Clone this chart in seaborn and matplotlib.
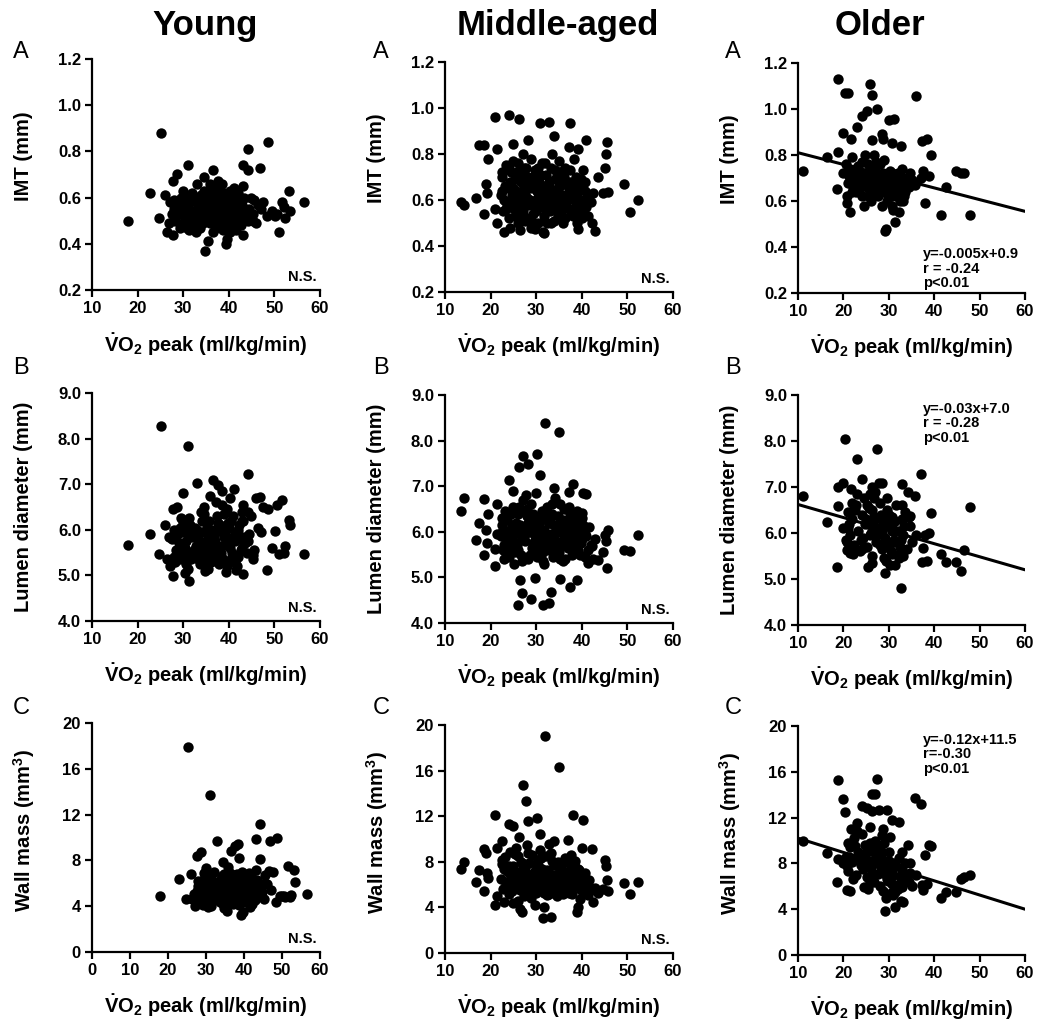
import numpy as np
import pandas as pd
import seaborn as sns
import matplotlib.pyplot as plt

sns.set_style("ticks")
plt.rcParams['font.family'] = ['Liberation Sans', 'DejaVu Sans']
plt.rcParams['font.weight'] = 'bold'
plt.rcParams['axes.labelweight'] = 'bold'
plt.rcParams['text.color'] = 'black'
plt.rcParams['axes.labelcolor'] = 'black'
plt.rcParams['mathtext.fontset'] = 'custom'
plt.rcParams['mathtext.rm'] = 'Liberation Sans:bold'
plt.rcParams['mathtext.it'] = 'Liberation Sans:bold'
plt.rcParams['mathtext.bf'] = 'Liberation Sans:bold'

# ---- data ----
young_vo2 = [18.0, 25.2, 31.0, 56.5, 24.8, 22.8, 48.7, 44.3, 46.8, 43.2,
             44.3, 34.8, 39.3, 35.5, 53.2, 51.6, 50.9, 53.4, 50.1, 52.3,
             48.3, 46.5, 45.4, 44.3, 43.2, 36.6, 34.6, 28.6, 27.7, 26.0,
             26.4, 27.8, 29.9, 33.0, 37.7, 43.2, 38.5, 30.5, 31.2, 41.5,
             29.0, 30.2, 31.5, 32.4, 33.3, 34.1, 35.0, 35.8, 36.7, 37.5,
             38.2, 39.0, 39.8, 40.6, 41.4, 42.1, 42.9, 28.3, 29.6, 30.9,
             32.0, 33.6, 34.5, 35.4, 36.2, 37.1, 38.0, 38.8, 39.5, 40.3,
             41.0, 41.8, 42.6, 28.8, 30.4, 31.8, 33.0, 34.0, 35.2, 36.0,
             37.0, 37.8, 39.2, 40.0, 40.9, 42.3, 43.6, 44.5, 27.5, 28.0,
             32.8, 36.5, 33.8, 45.5, 47.0, 49.5, 52.0, 31.0, 26.8, 27.2,
             29.2, 46.0, 47.5, 50.5, 37.3, 35.9, 41.2, 38.6, 40.2, 39.7,
             28.5, 29.4, 30.0, 30.7, 31.3, 32.2, 32.6, 33.4, 34.3, 34.8,
             35.6, 36.4, 36.9, 37.6, 38.4, 38.9, 39.4, 40.1, 40.7, 41.6,
             42.0, 42.8, 43.4, 44.0, 29.8, 31.6, 33.2, 35.0, 36.8, 38.6,
             40.4, 42.2, 27.9, 44.8, 30.6, 34.2, 37.9, 41.3, 43.0, 45.2]
young_imt = [0.50, 0.88, 0.74, 0.58, 0.51, 0.62, 0.84, 0.81, 0.73, 0.74,
             0.72, 0.37, 0.40, 0.41, 0.63, 0.58, 0.45, 0.54, 0.52, 0.51,
             0.52, 0.57, 0.50, 0.50, 0.44, 0.72, 0.69, 0.70, 0.67, 0.61,
             0.45, 0.44, 0.63, 0.66, 0.67, 0.65, 0.62, 0.48, 0.46, 0.46,
             0.55, 0.52, 0.58, 0.50, 0.56, 0.53, 0.60, 0.49, 0.55, 0.58,
             0.51, 0.54, 0.60, 0.49, 0.56, 0.53, 0.59, 0.50, 0.60, 0.47,
             0.62, 0.47, 0.63, 0.52, 0.62, 0.47, 0.60, 0.46, 0.57, 0.63,
             0.51, 0.61, 0.48, 0.57, 0.56, 0.54, 0.52, 0.58, 0.55, 0.57,
             0.53, 0.49, 0.50, 0.55, 0.58, 0.56, 0.52, 0.55, 0.53, 0.59,
             0.45, 0.45, 0.61, 0.59, 0.55, 0.54, 0.56, 0.51, 0.49, 0.58,
             0.47, 0.49, 0.58, 0.53, 0.64, 0.66, 0.64, 0.66, 0.45, 0.42,
             0.52, 0.58, 0.49, 0.61, 0.55, 0.47, 0.59, 0.53, 0.49, 0.57,
             0.63, 0.51, 0.60, 0.55, 0.57, 0.62, 0.48, 0.52, 0.59, 0.48,
             0.62, 0.55, 0.60, 0.52, 0.54, 0.50, 0.60, 0.50, 0.64, 0.53,
             0.56, 0.51, 0.55, 0.60, 0.59, 0.61, 0.63, 0.54, 0.57, 0.53]
young_lumen = [5.67, 8.27, 7.83, 5.47, 5.47, 5.90, 6.45, 7.22, 6.72, 6.55,
               6.40, 5.10, 5.07, 5.15, 6.22, 6.65, 5.48, 6.10, 5.97, 5.65,
               5.12, 6.05, 5.45, 5.75, 5.02, 7.10, 6.50, 6.50, 6.45, 6.10,
               5.35, 4.98, 6.80, 7.02, 6.98, 6.20, 6.85, 5.05, 4.87, 5.12,
               5.70, 5.95, 6.10, 5.55, 5.80, 6.20, 5.45, 5.90, 5.65, 6.30,
               5.50, 5.85, 6.15, 5.40, 5.75, 6.00, 5.60, 5.30, 6.25, 5.45,
               5.85, 5.25, 6.35, 5.60, 5.30, 5.95, 6.10, 5.35, 6.45, 5.60,
               6.30, 5.20, 5.55, 5.90, 5.60, 5.35, 6.00, 5.70, 6.05, 5.40,
               5.75, 5.25, 5.95, 5.30, 5.85, 6.10, 5.70, 5.90, 5.80, 5.40,
               5.65, 5.50, 6.40, 5.55, 5.95, 5.60, 5.50, 5.15, 5.85, 5.20,
               6.05, 6.70, 6.50, 6.55, 6.60, 6.75, 6.90, 6.55, 6.70, 5.20,
               5.55, 5.35, 6.15, 5.75, 6.25, 5.40, 6.05, 5.55, 5.95, 5.30,
               6.20, 6.00, 5.55, 6.15, 5.65, 6.35, 5.75, 6.05, 5.50, 5.95,
               5.40, 6.20, 5.85, 5.50, 5.50, 5.90, 5.35, 5.75, 5.85, 6.00,
               6.20, 5.80, 6.00, 6.30, 5.25, 5.45, 5.40, 5.30, 6.40, 5.35]
young_wall = [4.9, 17.9, 13.7, 5.1, 4.6, 6.4, 10.0, 11.2, 9.7, 9.9,
              8.1, 3.8, 3.2, 3.6, 7.2, 7.5, 4.8, 6.1, 4.9, 5.0,
              4.4, 7.1, 6.0, 5.2, 4.7, 8.8, 7.9, 8.7, 8.4, 6.8,
              4.6, 4.5, 7.3, 9.7, 9.3, 7.2, 9.4, 3.9, 4.0, 3.9,
              5.6, 5.2, 6.3, 4.8, 5.9, 6.6, 5.1, 4.6, 6.0, 5.4,
              6.8, 4.9, 5.7, 6.2, 5.0, 6.5, 4.5, 4.7, 6.9, 4.3,
              7.0, 4.4, 6.2, 5.5, 6.9, 4.2, 6.0, 4.1, 7.0, 5.3,
              5.8, 4.4, 6.1, 6.1, 5.8, 5.0, 5.4, 6.4, 4.7, 5.2,
              5.7, 6.3, 5.2, 6.6, 4.6, 5.6, 5.4, 5.8, 5.3, 6.2,
              4.9, 4.3, 5.3, 6.7, 5.4, 4.9, 4.8, 5.9, 5.1, 4.0,
              4.1, 5.9, 7.0, 4.9, 6.7, 7.4, 6.3, 8.2, 4.6, 3.5,
              5.0, 6.4, 4.4, 6.7, 5.3, 4.5, 6.0, 5.7, 4.3, 6.8,
              5.8, 6.4, 4.8, 6.6, 5.0, 6.2, 5.5, 4.4, 5.9, 6.8,
              5.2, 4.8, 6.3, 4.9, 4.8, 6.0, 4.6, 5.9, 6.2, 4.7,
              5.5, 4.2, 5.8, 5.2, 5.5, 4.9, 5.6, 6.9, 5.9, 4.6]

middle_vo2 = [13.5, 14.1, 16.7, 17.5, 18.5, 18.6, 18.9, 19.2, 19.5, 21.0,
              21.0, 21.3, 21.3, 22.6, 22.9, 24.1, 24.9, 25.0, 25.9, 26.3,
              26.4, 26.8, 27.0, 27.8, 28.3, 28.9, 29.7, 30.1, 30.8, 31.4,
              31.7, 31.9, 32.7, 32.9, 33.2, 33.8, 34.9, 35.2, 37.0, 37.3,
              37.4, 38.1, 39.0, 39.2, 39.2, 39.6, 40.0, 40.3, 40.9, 41.4,
              42.2, 42.5, 42.9, 43.6, 44.7, 45.1, 45.3, 45.5, 45.8, 49.3,
              50.6, 52.4,
              22.2, 22.5, 22.8, 23.1, 23.4, 23.7, 24.0, 24.3, 24.6, 24.9,
              25.2, 25.5, 25.8, 26.1, 26.4, 26.7, 27.0, 27.3, 27.6, 27.9,
              28.2, 28.5, 28.8, 29.1, 29.4, 29.7, 30.0, 30.3, 30.6, 30.9,
              31.2, 31.5, 31.8, 32.1, 32.4, 32.7, 33.0, 33.3, 33.6, 33.9,
              34.2, 34.5, 34.8, 35.1, 35.4, 35.7, 36.0, 36.3, 36.6, 36.9,
              37.2, 37.5, 37.8, 38.1, 38.4, 38.7, 39.0, 39.4, 39.8, 40.2,
              40.6, 41.0, 41.5, 42.0, 23.0, 24.4, 25.6, 26.8, 28.0, 29.2,
              30.4, 31.6, 32.8, 34.0, 35.2, 36.4, 37.6, 38.8, 40.0, 29.8,
              31.0, 32.2, 27.2, 26.0, 33.5, 35.8, 38.2, 24.2,
              22.4, 23.3, 24.1, 24.8, 25.4, 26.2, 26.9, 27.5, 28.1, 28.7,
              29.3, 29.9, 30.5, 31.1, 31.7, 32.3, 32.9, 33.5, 34.1, 34.7,
              35.3, 35.9, 36.5, 37.1, 37.7, 38.3, 38.9, 39.5, 40.1, 40.7,
              41.3, 26.5, 28.9, 31.4, 33.7, 36.1, 23.8, 27.7, 35.5, 30.1]
middle_imt = [0.59, 0.58, 0.61, 0.84, 0.84, 0.54, 0.67, 0.63, 0.78, 0.96,
              0.56, 0.82, 0.50, 0.72, 0.46, 0.97, 0.845, 0.65, 0.52, 0.95,
              0.47, 0.55, 0.80, 0.74, 0.86, 0.48, 0.475, 0.70, 0.935, 0.46,
              0.455, 0.76, 0.94, 0.58, 0.50, 0.88, 0.68, 0.72, 0.60, 0.83,
              0.935, 0.62, 0.50, 0.82, 0.475, 0.58, 0.66, 0.73, 0.86, 0.60,
              0.50, 0.63, 0.465, 0.70, 0.63, 0.74, 0.80, 0.85, 0.635, 0.67,
              0.547, 0.60,
              0.62, 0.70, 0.55, 0.66, 0.75, 0.58, 0.52, 0.68, 0.62, 0.77,
              0.56, 0.64, 0.72, 0.50, 0.60, 0.68, 0.55, 0.74, 0.63, 0.52,
              0.70, 0.58, 0.78, 0.65, 0.54, 0.73, 0.60, 0.50, 0.68, 0.57,
              0.76, 0.63, 0.53, 0.71, 0.60, 0.66, 0.55, 0.74, 0.62, 0.51,
              0.69, 0.58, 0.65, 0.77, 0.55, 0.62, 0.70, 0.52, 0.60, 0.68,
              0.56, 0.73, 0.61, 0.53, 0.66, 0.58, 0.63, 0.55, 0.69, 0.60,
              0.64, 0.57, 0.62, 0.59, 0.60, 0.72, 0.54, 0.64, 0.61, 0.50,
              0.74, 0.58, 0.68, 0.60, 0.66, 0.74, 0.54, 0.70, 0.52, 0.58,
              0.64, 0.56, 0.59, 0.76, 0.80, 0.50, 0.78, 0.48,
              0.64, 0.56, 0.74, 0.59, 0.69, 0.57, 0.71, 0.51, 0.66, 0.60,
              0.70, 0.55, 0.63, 0.71, 0.60, 0.50, 0.64, 0.58, 0.73, 0.53,
              0.61, 0.67, 0.57, 0.64, 0.68, 0.56, 0.61, 0.66, 0.56, 0.68,
              0.53, 0.62, 0.68, 0.66, 0.56, 0.59, 0.65, 0.70, 0.72, 0.64]
middle_lumen = [6.45, 6.74, 5.82, 6.19, 6.72, 5.50, 6.05, 5.75, 6.40, 5.24,
                5.62, 6.60, 5.95, 6.30, 5.40, 7.14, 6.90, 5.80, 4.40, 7.42,
                4.95, 4.66, 7.66, 6.80, 7.49, 4.53, 4.99, 7.71, 7.25, 4.40,
                5.30, 8.39, 6.20, 4.44, 4.69, 6.96, 8.18, 4.96, 6.10, 6.88,
                4.79, 7.05, 4.95, 6.20, 5.60, 5.90, 6.42, 6.85, 6.83, 5.31,
                5.68, 5.40, 5.85, 5.39, 5.55, 5.92, 5.80, 5.20, 6.05, 5.61,
                5.57, 5.92,
                5.90, 6.15, 5.60, 6.45, 5.75, 6.25, 5.45, 6.05, 5.85, 6.55,
                5.30, 6.20, 5.70, 6.40, 5.95, 5.50, 6.70, 6.10, 5.80, 6.35,
                5.40, 6.00, 6.60, 5.65, 6.25, 5.90, 6.85, 5.55, 6.15, 5.75,
                6.45, 5.35, 6.05, 5.85, 6.55, 5.60, 6.30, 5.95, 5.45, 6.15,
                6.75, 5.70, 6.35, 5.55, 6.00, 5.80, 6.50, 5.40, 6.20, 5.65,
                5.95, 6.40, 5.50, 6.10, 5.85, 6.30, 5.60, 6.00, 5.75, 6.15,
                5.45, 5.90, 6.10, 5.70, 5.70, 6.40, 6.00, 5.35, 6.50, 5.75,
                6.30, 5.55, 6.20, 5.90, 6.60, 5.70, 6.25, 5.65, 5.85, 6.10,
                5.95, 5.80, 6.05, 5.60, 6.40, 5.35, 6.15, 5.55,
                6.00, 6.35, 5.65, 6.15, 5.55, 6.55, 5.85, 5.95, 6.20, 5.50,
                6.40, 5.85, 5.65, 6.25, 6.00, 6.40, 5.75, 6.60, 5.55, 6.05,
                5.40, 6.25, 5.90, 6.55, 5.75, 6.00, 6.45, 5.50, 6.30, 5.95,
                5.60, 6.15, 6.05, 5.70, 5.85, 6.10, 5.95, 6.45, 6.20, 5.45]
middle_wall = [7.4, 8.0, 6.2, 7.3, 9.1, 5.4, 8.8, 7.0, 6.6, 12.1,
               4.25, 9.2, 5.0, 9.8, 4.5, 11.3, 11.1, 4.4, 4.6, 10.2,
               3.9, 3.6, 14.7, 13.3, 11.6, 4.8, 4.2, 11.8, 10.4, 3.1,
               4.0, 19.0, 9.6, 5.2, 3.2, 9.8, 16.3, 5.6, 9.9, 8.1,
               6.8, 12.1, 3.6, 7.4, 4.0, 4.7, 9.2, 11.7, 6.0, 5.1,
               9.1, 4.5, 5.7, 5.3, 5.6, 8.2, 7.6, 6.4, 5.4, 6.16,
               5.2, 6.2,
               6.5, 7.8, 5.6, 8.4, 6.0, 7.2, 5.2, 8.9, 6.7, 7.6,
               5.8, 9.2, 6.3, 7.0, 5.5, 8.0, 6.8, 5.0, 7.5, 9.5,
               6.1, 7.9, 5.7, 8.6, 6.4, 7.2, 5.3, 8.2, 6.0, 9.0,
               7.4, 5.8, 6.6, 8.5, 5.1, 7.0, 6.2, 8.8, 5.6, 7.7,
               6.4, 5.0, 8.0, 6.9, 7.6, 5.4, 6.1, 8.3, 7.1, 5.7,
               6.5, 7.8, 5.2, 6.9, 8.1, 5.9, 6.6, 7.3, 5.5, 6.2,
               7.0, 5.8, 6.4, 5.5, 7.4, 5.9, 6.1, 7.3, 5.4, 6.9,
               7.7, 6.3, 5.9, 6.8, 7.2, 6.0, 8.6, 7.5, 6.0, 6.2,
               5.5, 7.0, 6.5, 8.5, 6.4, 5.2, 7.9, 6.9,
               8.2, 6.2, 7.6, 5.4, 8.7, 6.6, 7.9, 5.9, 8.8, 6.5,
               5.6, 7.8, 6.7, 8.3, 5.3, 7.3, 6.1, 8.1, 5.8, 6.9,
               7.9, 5.6, 6.8, 5.3, 7.2, 6.0, 6.3, 5.7, 6.7, 5.4,
               6.0, 5.9, 6.8, 7.1, 5.7, 6.5, 5.8, 7.0, 5.9, 6.4]

older_vo2 = [11.1, 16.3, 18.5, 18.8, 18.9, 19.9, 20.3, 20.7, 21.0, 21.4,
             21.6, 23.1, 24.2, 25.1, 25.4, 25.8, 26.2, 26.4, 26.9, 27.3,
             27.9, 28.4, 28.8, 29.1, 29.3, 29.5, 30.1, 30.6, 31.1, 31.3,
             32.3, 32.6, 32.8, 33.2, 34.3, 34.6, 35.7, 36.1, 37.2, 37.4,
             37.6, 37.9, 38.5, 38.9, 39.4, 41.6, 42.7, 44.9, 46.0, 46.5,
             47.9,
             20.0, 20.5, 21.0, 21.5, 22.0, 22.4, 22.8, 23.2, 23.6, 24.0,
             24.4, 24.8, 25.2, 25.6, 26.0, 26.4, 26.8, 27.2, 27.6, 28.0,
             28.4, 28.8, 29.2, 29.6, 30.0, 30.4, 30.8, 31.2, 31.6, 32.0,
             32.4, 32.8, 33.2, 33.6, 34.0, 34.6, 35.2, 22.2, 24.6, 27.0,
             29.0, 31.0, 26.2, 30.2, 23.0, 28.6, 25.4, 32.2, 20.8, 29.8,
             21.2, 22.6, 23.8, 25.0, 26.6, 27.4, 28.2, 29.4, 30.6, 31.4,
             32.6, 33.4, 34.4, 24.2, 26.8, 28.0, 30.8, 33.0, 21.8, 25.8]
older_imt = [0.73, 0.79, 0.65, 1.13, 0.815, 0.895, 1.07, 0.59, 1.07, 0.55,
             0.87, 0.92, 0.97, 0.99, 0.62, 1.11, 0.865, 1.06, 0.75, 1.00,
             0.70, 0.89, 0.87, 0.47, 0.48, 0.66, 0.95, 0.85, 0.955, 0.51,
             0.55, 0.84, 0.70, 0.60, 0.68, 0.70, 0.67, 1.055, 0.70, 0.86,
             0.73, 0.59, 0.87, 0.71, 0.80, 0.54, 0.66, 0.73, 0.72, 0.72,
             0.54,
             0.72, 0.76, 0.68, 0.74, 0.79, 0.70, 0.64, 0.75, 0.68, 0.62,
             0.72, 0.80, 0.66, 0.73, 0.60, 0.70, 0.64, 0.77, 0.62, 0.68,
             0.58, 0.72, 0.64, 0.60, 0.70, 0.65, 0.58, 0.67, 0.62, 0.72,
             0.60, 0.66, 0.70, 0.64, 0.68, 0.72, 0.69, 0.66, 0.58, 0.74,
             0.78, 0.56, 0.68, 0.73, 0.71, 0.66, 0.76, 0.64, 0.62, 0.62,
             0.71, 0.74, 0.66, 0.70, 0.72, 0.66, 0.70, 0.68, 0.62, 0.70,
             0.68, 0.62, 0.66, 0.77, 0.80, 0.76, 0.72, 0.74, 0.64, 0.64]
older_lumen = [6.80, 6.23, 5.27, 7.00, 6.59, 7.08, 8.04, 5.62, 6.10, 5.57,
               6.95, 7.61, 7.18, 6.60, 5.25, 6.85, 6.50, 7.00, 6.30, 7.82,
               7.09, 7.08, 6.20, 5.12, 5.40, 6.75, 6.40, 6.20, 5.80, 5.30,
               5.55, 4.80, 7.07, 5.50, 6.90, 6.36, 6.80, 5.95, 7.28, 5.38,
               5.67, 5.96, 5.40, 6.00, 6.43, 5.54, 5.38, 5.36, 5.18, 5.64,
               6.57,
               6.10, 5.85, 6.45, 5.95, 6.30, 5.75, 6.60, 6.05, 5.60, 6.40,
               5.90, 6.20, 5.70, 6.55, 6.00, 5.50, 6.35, 5.80, 6.10, 6.65,
               5.65, 6.25, 5.90, 6.50, 6.15, 5.60, 6.35, 5.85, 6.60, 6.05,
               5.70, 6.30, 5.95, 6.45, 5.65, 6.15, 5.80, 5.55, 6.75, 6.90,
               5.45, 6.05, 5.35, 5.30, 6.85, 6.00, 6.20, 5.45, 5.80, 5.75,
               6.20, 6.50, 5.85, 6.30, 6.10, 5.95, 6.40, 6.20, 6.05, 6.25,
               5.85, 6.15, 6.35, 5.65, 6.75, 5.75, 5.55, 6.60, 6.65, 5.95]
older_wall = [10.0, 8.9, 6.4, 15.3, 8.4, 13.6, 12.5, 5.7, 9.8, 5.6,
              11.0, 10.8, 13.0, 12.8, 6.0, 11.2, 14.1, 12.6, 14.1, 15.4,
              12.7, 10.5, 11.0, 3.8, 5.0, 12.7, 9.0, 11.8, 8.0, 4.2,
              11.6, 4.7, 9.0, 4.6, 9.6, 8.0, 13.7, 7.0, 13.2, 6.1,
              5.7, 8.7, 6.2, 9.6, 9.5, 5.0, 5.5, 5.5, 6.6, 6.8,
              7.0,
              8.0, 8.6, 7.3, 9.4, 8.1, 10.2, 7.0, 9.0, 8.5, 10.6,
              7.5, 9.6, 6.8, 8.2, 7.7, 9.1, 6.4, 8.8, 7.1, 6.0,
              8.4, 5.6, 7.6, 6.6, 8.2, 5.4, 7.3, 6.1, 7.8, 5.8,
              6.9, 7.5, 6.3, 8.0, 6.8, 7.2, 6.0, 6.6, 5.9, 10.0,
              9.8, 5.2, 7.2, 10.3, 11.5, 9.0, 5.8, 8.5, 7.8, 6.5,
              8.6, 9.5, 7.9, 8.9, 6.9, 9.4, 7.4, 7.0, 6.2, 5.5,
              6.6, 7.0, 6.4, 8.0, 8.3, 7.9, 6.9, 5.9, 8.4, 9.8]

# regression lines drawn in the older group (end points)
older_fit_vo2 = [10, 60]
older_fit_imt = [0.81, 0.555]
older_fit_lumen = [6.62, 5.20]
older_fit_wall = [10.2, 4.0]
older_stats = ["y=-0.005x+0.9\nr = -0.24\np<0.01",
               "y=-0.03x+7.0\nr = -0.28\np<0.01",
               "y=-0.12x+11.5\nr=-0.30\np<0.01"]

groups = ['Young', 'Middle-aged', 'Older']
measures = ['imt', 'lumen', 'wall']
ylabels = ['IMT (mm)', 'Lumen diameter (mm)', r'Wall mass (mm$^\mathrm{3}$)']
yticks = [[0.2, 0.4, 0.6, 0.8, 1.0, 1.2],
          [4.0, 5.0, 6.0, 7.0, 8.0, 9.0],
          [0, 4, 8, 12, 16, 20]]
ytick_labels = [['0.2', '0.4', '0.6', '0.8', '1.0', '1.2'],
                ['4.0', '5.0', '6.0', '7.0', '8.0', '9.0'],
                ['0', '4', '8', '12', '16', '20']]
letters = ['A', 'B', 'C']

frames = [
    pd.DataFrame({'vo2': young_vo2, 'imt': young_imt, 'lumen': young_lumen, 'wall': young_wall}),
    pd.DataFrame({'vo2': middle_vo2, 'imt': middle_imt, 'lumen': middle_lumen, 'wall': middle_wall}),
    pd.DataFrame({'vo2': older_vo2, 'imt': older_imt, 'lumen': older_lumen, 'wall': older_wall}),
]
fits = [older_fit_imt, older_fit_lumen, older_fit_wall]

# ---- layout (pixels) ----
W, H = 1037, 1021
fig = plt.figure(figsize=(W / 100, H / 100), dpi=100)

col_lr = [(92, 320), (445, 673), (798, 1025)]
row_tb = [[(59, 290), (62, 292), (63, 293)],
          [(393, 621), (395, 623), (395, 625)],
          [(723, 952), (725, 953), (726, 955)]]
ylab_y = [0.58, 0.5, 0.53]
letter_y = [52, 368, 708]
letter_x = [21, 381, 733]
title_x = [205, 558, 880]
stat_y = [0.20, 0.97, 0.97]

for c, grp in enumerate(groups):
    fig.text(title_x[c] / W, 1 - 35 / H, grp, ha='center', va='baseline',
             fontsize=25, fontweight='bold', color='black')
    df = frames[c]
    for r, m in enumerate(measures):
        l, rr = col_lr[c]
        t, b = row_tb[r][c]
        ax = fig.add_axes([l / W, 1 - b / H, (rr - l) / W, (b - t) / H])

        sns.scatterplot(data=df, x='vo2', y=m, ax=ax, color='black', s=56,
                        linewidth=0, clip_on=False)
        if c == 2:
            sns.lineplot(x=older_fit_vo2, y=fits[r], ax=ax, color='black',
                         linewidth=2.2)
            ax.text(0.55, stat_y[r], older_stats[r], transform=ax.transAxes,
                    ha='left', va='top', fontsize=10.5, linespacing=1.05,
                    color='black')
        else:
            ax.text(0.985, 0.055, 'N.S.', transform=ax.transAxes,
                    ha='right', va='center', fontsize=10.5, color='black')

        if c == 0 and r == 2:
            ax.set_xlim(0, 60)
            ax.set_xticks([0, 10, 20, 30, 40, 50, 60])
        else:
            ax.set_xlim(10, 60)
            ax.set_xticks([10, 20, 30, 40, 50, 60])
        ax.set_ylim(yticks[r][0], yticks[r][-1])
        ax.set_yticks(yticks[r])
        ax.set_yticklabels(ytick_labels[r])

        sns.despine(ax=ax)
        for sp in ['left', 'bottom']:
            ax.spines[sp].set_linewidth(1.6)
            ax.spines[sp].set_color('black')
        ax.tick_params(direction='out', length=5, width=1.6, labelsize=12,
                       colors='black', pad=3)

        ax.set_xlabel(r'$\dot{\mathrm{V}}\mathrm{O}_\mathrm{2}$ peak (ml/kg/min)',
                      fontsize=14.5, fontweight='bold', va='center')
        ax.xaxis.set_label_coords(0.5, -0.235)
        ax.set_ylabel(ylabels[r], fontsize=14.5, fontweight='bold', va='center')
        ax.yaxis.set_label_coords(-0.30, ylab_y[r])

        fig.text(letter_x[c] / W, 1 - letter_y[r] / H, letters[r],
                 ha='center', va='center', fontsize=17, fontweight='normal',
                 color='black')

fig.savefig('out.png', dpi=100, facecolor='white')
